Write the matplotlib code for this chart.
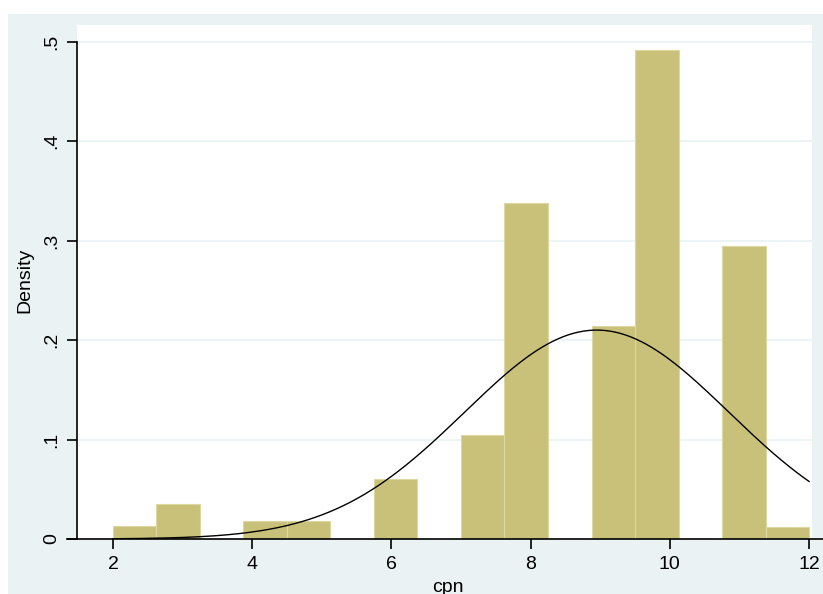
import numpy as np
import matplotlib
matplotlib.use("Agg")
import matplotlib.pyplot as plt
from matplotlib.patches import Rectangle

plt.rcParams['font.family'] = ['Liberation Sans', 'DejaVu Sans']

# Histogram data (bins of width 0.625 from 2 to 12)
bin_edges = [2.0, 2.625, 3.25, 3.875, 4.5, 5.125, 5.75, 6.375, 7.0,
             7.625, 8.25, 8.875, 9.5, 10.125, 10.75, 11.375, 12.0]
densities = [0.013, 0.035, 0.0, 0.0184, 0.0184, 0.0, 0.0603, 0.0, 0.1045,
             0.338, 0.0, 0.214, 0.491, 0.0, 0.2945, 0.0124]

# Normal overlay parameters
mu = 8.95
sigma = 1.90

xticks = [2, 4, 6, 8, 10, 12]
yticks = [0, 0.1, 0.2, 0.3, 0.4, 0.5]
ytick_labels = ["0", ".1", ".2", ".3", ".4", ".5"]

W, H = 823, 594
fig = plt.figure(figsize=(W / 100, H / 100), dpi=100)
fig.patch.set_facecolor("white")
bg = "#EAF2F3"
fig.patches.append(Rectangle((8 / W, 0), 1 - 8 / W, (H - 14) / H,
                             transform=fig.transFigure, facecolor=bg,
                             edgecolor="none", zorder=-10))

l, r, t, b = 77, 812, 25, 539
ax = fig.add_axes([l / W, (H - b) / H, (r - l) / W, (b - t) / H])
ax.set_facecolor("white")

for y in yticks[1:]:
    ax.axhline(y, color=bg, lw=1.2, zorder=0)

lefts = bin_edges[:-1]
widths = np.diff(bin_edges)
ax.bar(lefts, densities, width=widths, align="edge", color="#C9C17A",
       edgecolor="#DDD7A0", linewidth=0.8, zorder=2)

xs = np.linspace(bin_edges[0], bin_edges[-1], 400)
ys = np.exp(-0.5 * ((xs - mu) / sigma) ** 2) / (sigma * np.sqrt(2 * np.pi))
ax.plot(xs, ys, color="black", lw=1.0, zorder=3)

ax.set_xlim(1.483, 12.043)
ax.set_ylim(0, 0.5166)

for s in ["top", "right", "bottom"]:
    ax.spines[s].set_visible(False)
ax.spines["left"].set_bounds(0, 0.5)
ax.spines["left"].set_linewidth(1.2)
ax.spines["left"].set_color("black")
ax.plot([(67 - l) / (r - l), (823 - l) / (r - l)], [0, 0], color="black", lw=1.2,
        transform=ax.get_yaxis_transform(), clip_on=False, zorder=4)

ax.set_xticks(xticks)
ax.set_xticklabels([str(x) for x in xticks])
ax.set_yticks(yticks)
ax.set_yticklabels(ytick_labels, rotation=90, va="center")
ax.tick_params(axis="both", direction="out", length=7, width=1.2,
               labelsize=14, colors="black")
ax.tick_params(axis="x", pad=5)
ax.tick_params(axis="y", pad=5)

ax.set_xlabel("cpn", fontsize=14)
ax.set_ylabel("Density", fontsize=14)
ax.xaxis.set_label_coords((448 - l) / (r - l), (b - 587) / (b - t))
ax.yaxis.set_label_coords((25 - l) / (r - l), (b - 280) / (b - t))
ax.xaxis.label.set_va("center")
ax.yaxis.label.set_va("center")

fig.savefig("out.png", dpi=100, facecolor=fig.get_facecolor())
